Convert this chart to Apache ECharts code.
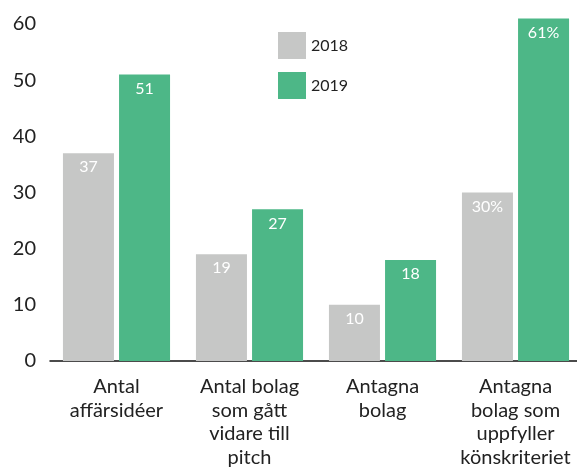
<!DOCTYPE html>
<html><head><meta charset="utf-8">
<script src="https://cdn.jsdelivr.net/npm/echarts@6/dist/echarts.min.js"></script>
<style>html,body{margin:0;padding:0;background:#fff}#c{width:577px;height:468px}</style>
</head><body><div id="c"></div>
<script>
const categories = ["Antal\naffärsidéer", "Antal bolag\nsom gått\nvidare till\npitch", "Antagna\nbolag", "Antagna\nbolag som\nuppfyller\nkönskriteriet"];
const values2018 = [37, 19, 10, 30];
const values2019 = [51, 27, 18, 61];
const labelSuffix = ["", "", "", "%"];
const yTicks = [0, 10, 20, 30, 40, 50, 60];
const FONT = "Lato";
const chart = echarts.init(document.getElementById('c'));
const lbl = {
  show: true, position: 'insideTop', distance: 6, color: '#fff', fontSize: 16, fontFamily: FONT,
  formatter: p => p.value + labelSuffix[p.dataIndex]
};
chart.setOption({
  animation: false,
  textStyle: {fontFamily: FONT},
  legend: {
    orient: 'vertical', left: 273, top: 27, itemWidth: 28, itemHeight: 27, itemGap: 13,
    icon: 'rect', textStyle: {fontSize: 16, color: '#222', fontFamily: FONT},
    data: ['2018', '2019']
  },
  grid: {left: 50, right: -5, top: 24, bottom: 107, outerBoundsMode: 'none', containLabel: false},
  xAxis: {
    type: 'category', data: categories,
    axisLine: {lineStyle: {color: '#111', width: 1.5}},
    axisTick: {show: false},
    axisLabel: {fontSize: 20, lineHeight: 23.5, color: '#222', margin: 14, interval: 0, fontFamily: FONT}
  },
  yAxis: {
    type: 'value', min: yTicks[0], max: yTicks[yTicks.length - 1], interval: 10,
    axisLine: {show: false}, axisTick: {show: false}, splitLine: {show: false},
    axisLabel: {fontSize: 20, color: '#222', margin: 14, fontFamily: FONT}
  },
  series: [
    {name: '2018', type: 'bar', data: values2018, barWidth: 51, barGap: '10%', clip: false,
     itemStyle: {color: '#c6c7c6'}, label: lbl},
    {name: '2019', type: 'bar', data: values2019, barWidth: 51, clip: false,
     itemStyle: {color: '#4db787'}, label: lbl}
  ]
});
</script></body></html>
